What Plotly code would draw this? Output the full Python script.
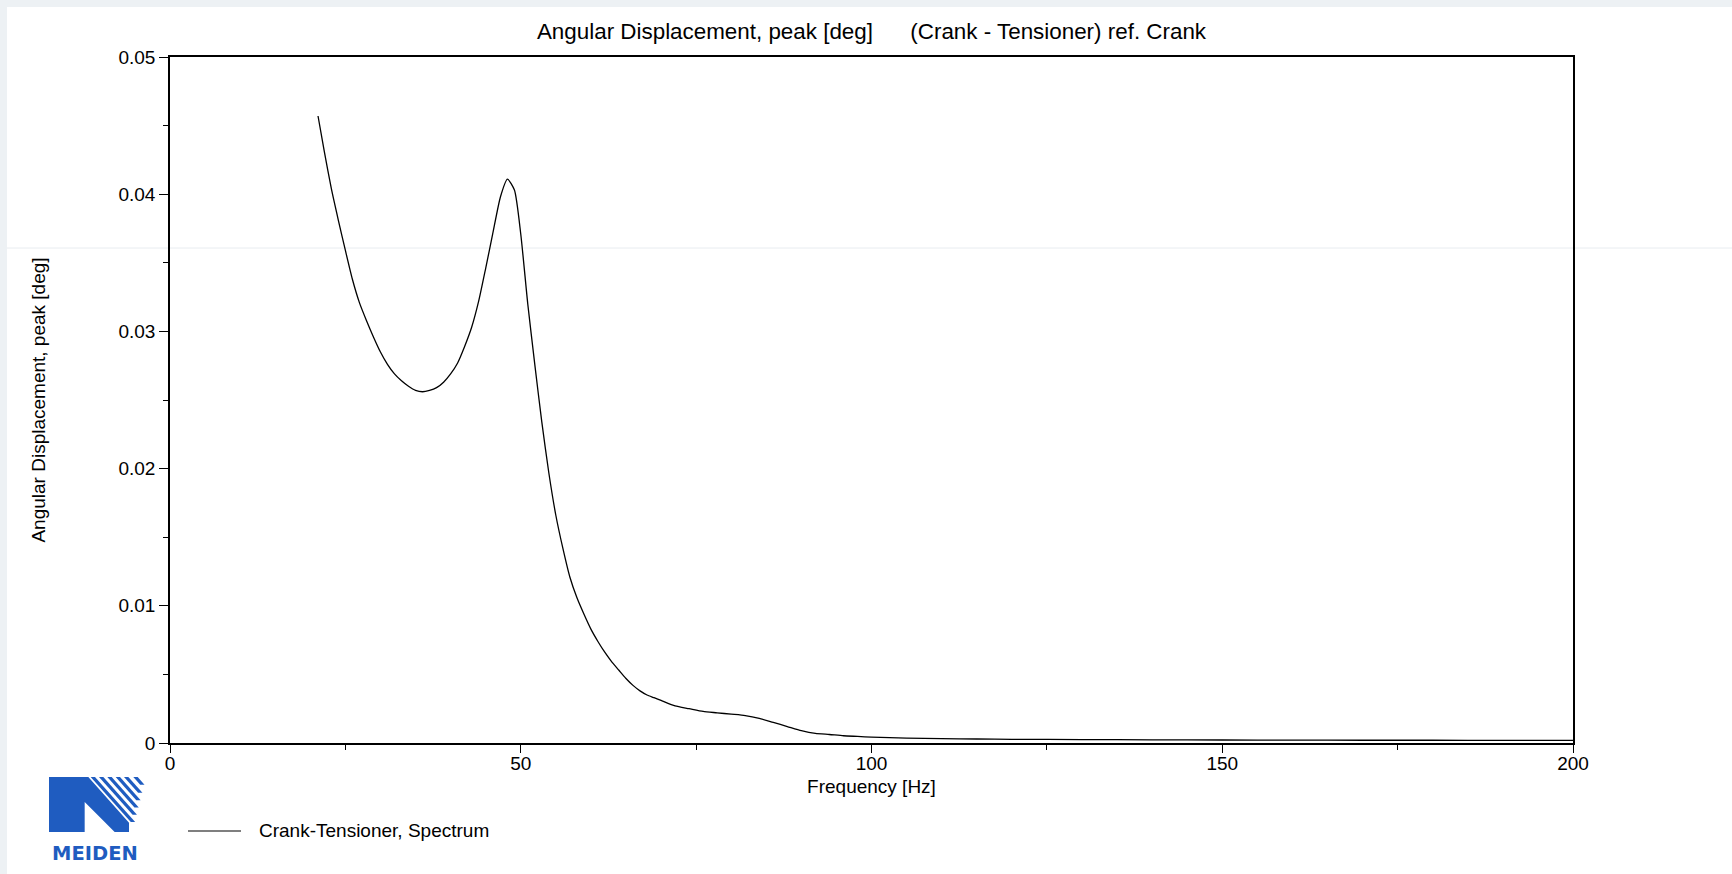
import plotly.graph_objects as go

# ---------------- data ----------------
freq_hz = [21.1, 22, 23, 24, 25, 26, 27, 28, 29, 30, 31, 32, 33, 34, 35, 36, 37, 38, 39, 40,
           41, 42, 43, 44, 45, 46, 47.1, 48.1, 49.1, 50, 51, 52, 53, 54, 55, 56, 57, 58, 59, 60,
           61, 62, 63, 64, 65, 66, 67, 68, 69, 70, 72, 74, 76, 78, 80, 82, 84, 86, 88, 90,
           92, 94, 96, 98, 100, 105, 110, 115, 120, 130, 140, 150, 160, 170, 180, 190, 200]
disp_deg = [0.0457, 0.0431, 0.0404, 0.0381, 0.0359, 0.0338, 0.0321, 0.0308, 0.0296, 0.0285,
            0.0276, 0.0269, 0.0264, 0.0260, 0.0257, 0.0256, 0.0257, 0.0259, 0.0263, 0.0269,
            0.0277, 0.0289, 0.0303, 0.0322, 0.0346, 0.0371, 0.0398, 0.0411, 0.0403, 0.0371,
            0.0320, 0.0276, 0.0234, 0.0197, 0.0166, 0.0142, 0.0121, 0.0106, 0.0094, 0.0083,
            0.0074, 0.0066, 0.0059, 0.0053, 0.0047, 0.0042, 0.0038, 0.0035, 0.0033, 0.0031,
            0.0027, 0.0025, 0.0023, 0.0022, 0.0021, 0.0020, 0.0018, 0.0015, 0.0012, 0.0009,
            0.0007, 0.00062, 0.00053, 0.00048, 0.00043, 0.00036, 0.00032, 0.00029, 0.00027,
            0.00025, 0.00023, 0.00022, 0.00021, 0.00020, 0.00020, 0.00019, 0.00019]
x_ticks = [0, 50, 100, 150, 200]
y_ticks = [0, 0.01, 0.02, 0.03, 0.04, 0.05]
y_tick_text = ["0", "0.01", "0.02", "0.03", "0.04", "0.05"]
series_name = "Crank-Tensioner, Spectrum"
chart_title = ("Angular Displacement, peak [deg]" + "\u00a0" * 6 +
               "(Crank - Tensioner) ref. Crank")
x_title = "Frequency [Hz]"
y_title = "Angular Displacement, peak [deg]"
logo_text = "MEIDEN"

# ---------------- layout geometry ----------------
W, H = 1732, 874
ML, MR, MT, MB = 170, 159, 57, 131
PW, PH = W - ML - MR, H - MT - MB
FONT = "Arial, Liberation Sans, Helvetica, sans-serif"
BLUE = "#1f5cc0"


def px(x):
    return (x - ML) / PW


def py(y):
    return (H - MB - y) / PH


fig = go.Figure()
fig.add_trace(go.Scatter(x=freq_hz, y=disp_deg, mode="lines", name=series_name,
                         line=dict(color="black", width=1.3, shape="spline", smoothing=0.6),
                         showlegend=False))

shapes = []
# page: grey frame with white sheet
shapes.append(dict(type="rect", xref="paper", yref="paper", layer="below",
                   x0=px(7), x1=px(W), y0=py(H), y1=py(7),
                   fillcolor="white", line=dict(width=0)))
shapes.append(dict(type="line", xref="paper", yref="paper", layer="below",
                   x0=px(7), x1=px(W), y0=py(248), y1=py(248),
                   line=dict(color="#e8ecf0", width=1)))
# legend sample line
shapes.append(dict(type="line", xref="paper", yref="paper",
                   x0=px(188), x1=px(241), y0=py(831), y1=py(831),
                   line=dict(color="black", width=1.2)))


def poly(points):
    d = "M " + " L ".join(f"{px(a):.5f},{py(b):.5f}" for a, b in points) + " Z"
    return dict(type="path", xref="paper", yref="paper", path=d,
                fillcolor=BLUE, line=dict(width=0))


def z(a, b):
    return (44 + a / 3.0, 770 + b / 3.0)


# logo main "N"
shapes.append(poly([z(15, 21), z(133, 21), z(255, 158), z(255, 186), z(212, 186),
                    z(122, 96), z(122, 186), z(15, 186)]))
# logo stripes
for a0 in [140, 165, 190, 215, 240, 268]:
    w = 13
    yb = (318.2 - a0) / 1.14
    dx = 0.89 * (yb - 21)
    shapes.append(poly([z(a0, 21), z(a0 + w, 21), z(a0 + w + dx, yb), z(a0 + dx, yb)]))

annotations = [
    dict(text=series_name, x=px(257), y=py(831), xref="paper", yref="paper",
         xanchor="left", yanchor="middle", showarrow=False,
         font=dict(family=FONT, size=19, color="black")),
    dict(text="<b>" + logo_text + "</b>", x=px(95), y=py(854), xref="paper", yref="paper",
         xanchor="center", yanchor="middle", showarrow=False,
         font=dict(family="DejaVu Sans", size=19.5, color=BLUE)),
]

axis_common = dict(
    showgrid=False, zeroline=False, showline=True, linecolor="black", linewidth=1.5,
    mirror=True, ticks="outside", tickcolor="black", tickwidth=1,
    tickfont=dict(family=FONT, size=19, color="black"),
)

fig.update_layout(
    width=W, height=H,
    margin=dict(l=ML, r=MR, t=MT, b=MB, pad=0),
    paper_bgcolor="#edf1f4",
    plot_bgcolor="rgba(0,0,0,0)",
    font=dict(family=FONT, color="black"),
    title=dict(text=chart_title, x=0.5, xref="paper", xanchor="center",
               y=1 - 31 / H, yref="container", yanchor="middle",
               font=dict(family=FONT, size=22.4, color="black")),
    xaxis=dict(range=[0, 200], tickvals=x_ticks, ticklen=8, ticklabelstandoff=-6,
               minor=dict(ticks="outside", dtick=25, ticklen=5, tickcolor="black"),
               title=dict(text=x_title, standoff=7,
                          font=dict(family=FONT, size=19, color="black")),
               **axis_common),
    yaxis=dict(range=[0, 0.05], tickvals=y_ticks, ticktext=y_tick_text,
               ticklen=9,
               minor=dict(ticks="outside", dtick=0.005, ticklen=5, tickcolor="black"),
               title=dict(text=y_title, standoff=68,
                          font=dict(family=FONT, size=19, color="black")),
               **axis_common),
    shapes=shapes,
    annotations=annotations,
    showlegend=False,
)

fig.write_html("out.html", config={"displayModeBar": False},
               post_script="document.body.style.margin='0';document.body.style.overflow='hidden';")
